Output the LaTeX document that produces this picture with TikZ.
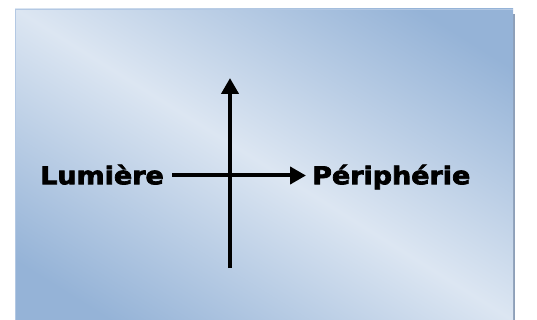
\documentclass[tikz,border=0pt]{standalone}
\usepackage{fontspec}
\newfontfamily\heavyfont{DejaVu Sans Bold}[FakeStretch=1.1,FakeBold=3]
\usetikzlibrary{arrows.meta,positioning}
\definecolor{panellight}{HTML}{DCE6F2}
\definecolor{paneldark}{HTML}{95B3D7}
\definecolor{panelrim}{HTML}{B3C8E3}
\definecolor{panelshadow}{HTML}{8D9FB8}
\pgfdeclareverticalshading{panelshade}{100bp}{color(0bp)=(paneldark); color(22bp)=(paneldark);
  color(50bp)=(panellight); color(78bp)=(paneldark); color(100bp)=(paneldark)}

\begin{document}
\begin{tikzpicture}[x=1pt,y=-1pt,
every node/.style={font=\heavyfont\fontsize{24.5}{25}\selectfont},
lbl/.style={inner ysep=0pt,text height=17.5pt,text depth=0pt},
arr/.style={-{Triangle[length=16pt,width=17pt]},line width=4pt,black}
]
\useasboundingbox (0,0) rectangle (537,320);
% panel
\fill[panelshadow] (512,14) rectangle (515,320);
\shade[shading=panelshade,shading angle=-32] (15,9) rectangle (513,320);
\draw[panelrim,line width=1.2pt] (15.6,320) -- (15.6,9.6) -- (512.5,9.6);

\coordinate (vbot) at (230,268);
\coordinate[above=190pt of vbot] (vtop);
\node[lbl,inner xsep=8pt,anchor=east] (lum) at (172,175.5) {Lumière};
\node[lbl,inner xsep=6pt,right=134pt of lum] (peri) {Périphérie};

\draw[arr] (lum) -- (peri);
\draw[arr] (vbot) -- (vtop);
\end{tikzpicture}
\end{document}
